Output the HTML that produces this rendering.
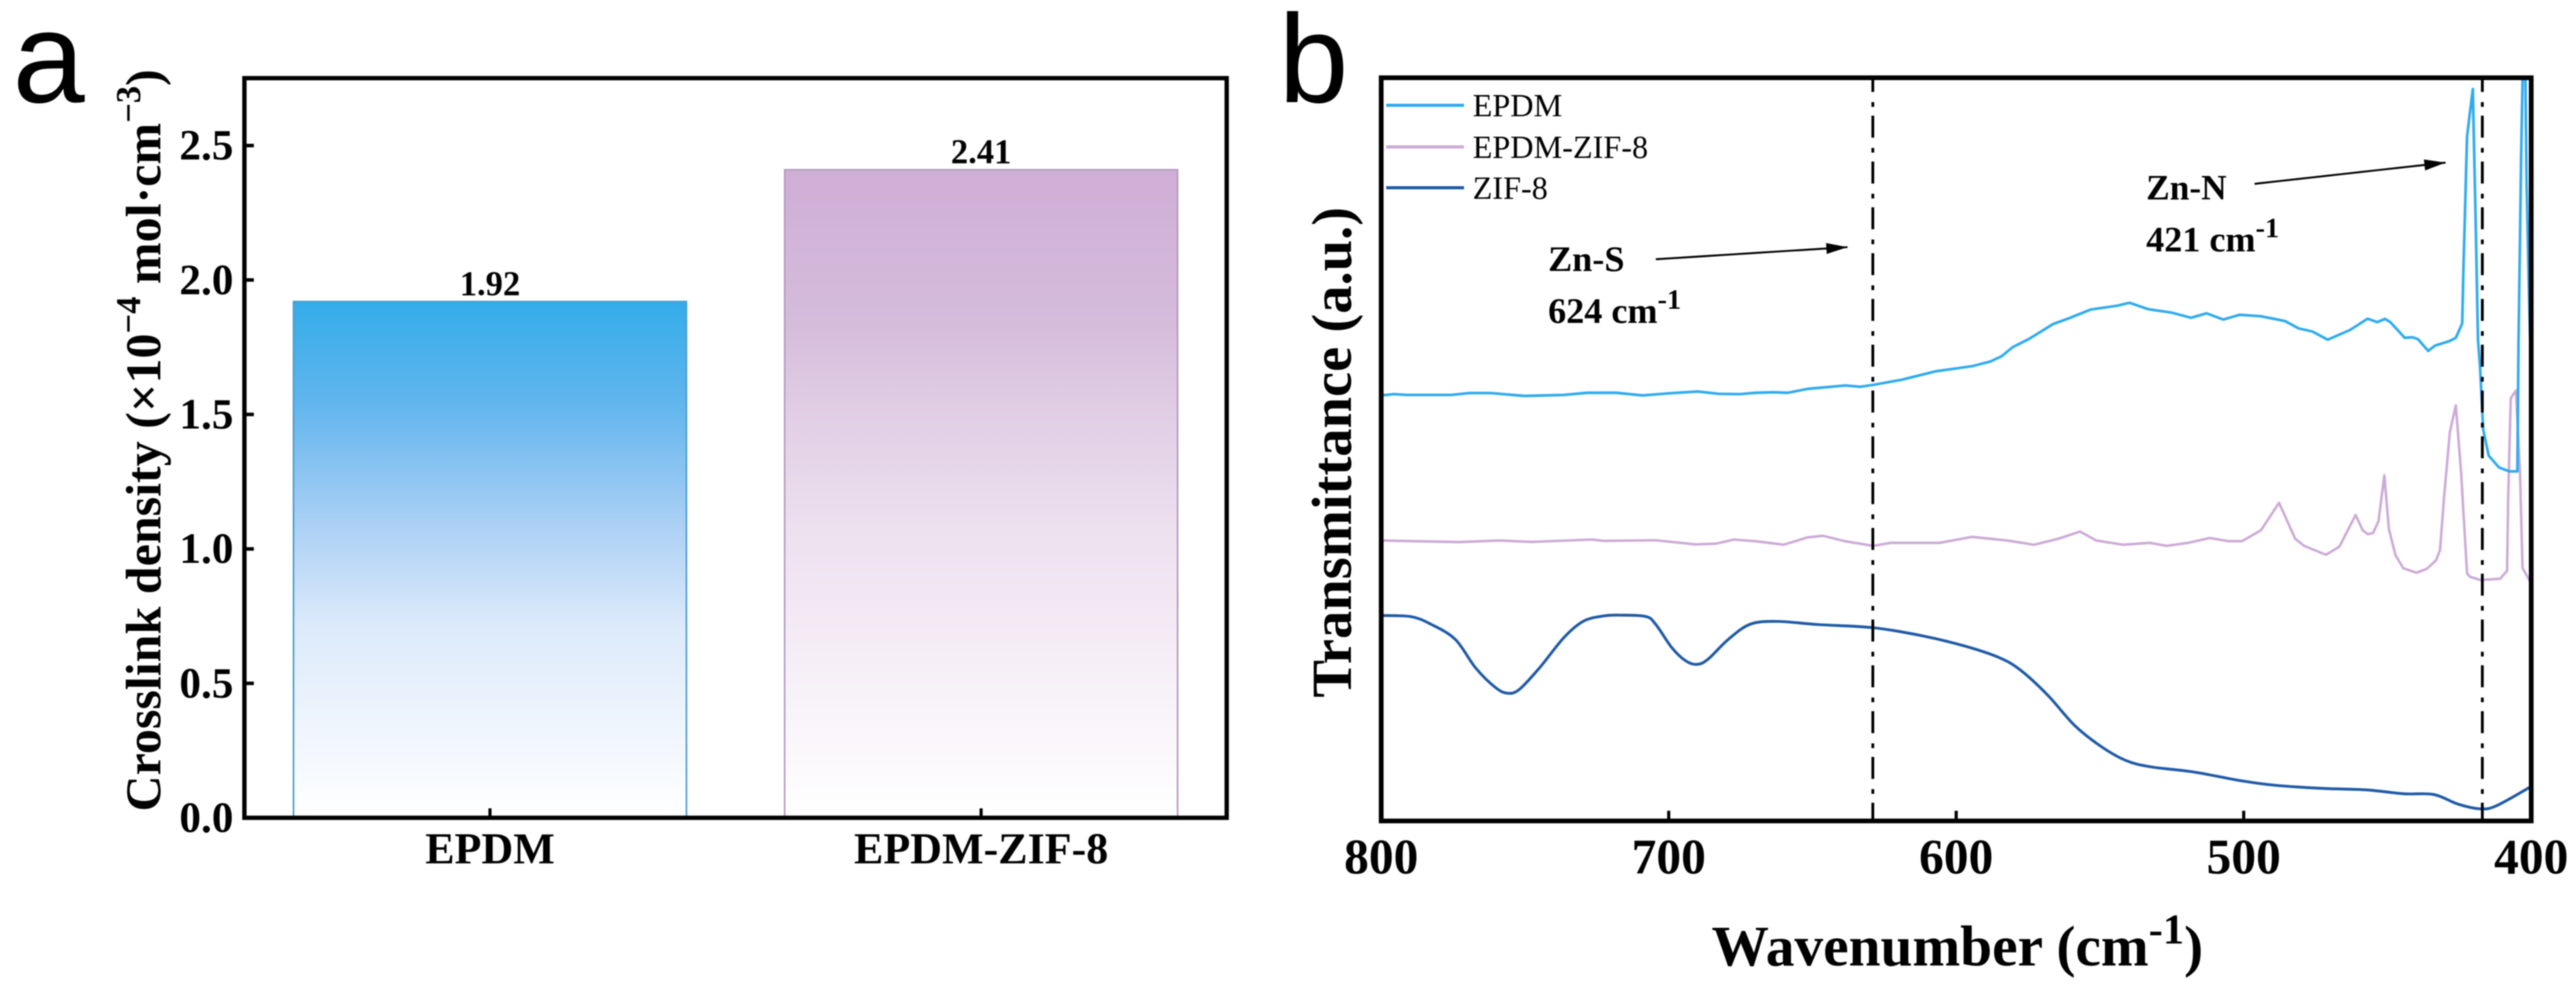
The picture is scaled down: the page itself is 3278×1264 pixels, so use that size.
<!DOCTYPE html>
<html lang="en">
<head>
<meta charset="utf-8">
<title>Crosslink density and FTIR transmittance</title>
<style>
  html, body { margin: 0; padding: 0; background: #fff; }
  svg { display: block; filter: blur(0.7px); }
  text { font-family: "Liberation Serif", serif; fill: #000; }
  .bold { font-weight: bold; }
  .panel { font-family: "Liberation Sans", sans-serif; }
</style>
</head>
<body>
<svg id="figure" width="3278" height="1264" viewBox="0 0 3278 1264" xmlns="http://www.w3.org/2000/svg">
  <defs>
    <linearGradient id="grad-blue" x1="0" y1="0" x2="0" y2="1">
      <stop offset="0" stop-color="#33ace9"/>
      <stop offset="0.2" stop-color="#62b5ed"/>
      <stop offset="0.45" stop-color="#b0d2f5"/>
      <stop offset="0.63" stop-color="#dceafa"/>
      <stop offset="1" stop-color="#ffffff"/>
    </linearGradient>
    <linearGradient id="grad-pink" x1="0" y1="0" x2="0" y2="1">
      <stop offset="0" stop-color="#cfaed5"/>
      <stop offset="0.24" stop-color="#d5bcdb"/>
      <stop offset="0.36" stop-color="#dfcce3"/>
      <stop offset="0.56" stop-color="#ede0ef"/>
      <stop offset="1" stop-color="#ffffff"/>
    </linearGradient>
    <clipPath id="clip-b"><rect x="1757" y="99" width="1464" height="946"/></clipPath>
    <marker id="arrow-head" markerUnits="userSpaceOnUse" markerWidth="28" markerHeight="14" refX="27" refY="7" orient="auto">
      <path d="M0 0 L27 7 L0 14 Z" fill="#000"/>
    </marker>
  </defs>

  <rect x="0" y="0" width="3278" height="1264" fill="#fff"/>

  <text class="panel" x="16" y="130" font-size="165">a</text>
  <text class="panel" x="1627" y="130" font-size="160">b</text>

  <g id="chart-a"></g>
  <g id="chart-b"></g>

  <text class="bold" transform="translate(204,1033) rotate(-90)" font-size="63.7">Crosslink density (×10<tspan dy="-26" font-size="44">−4</tspan><tspan dy="26"> mol·cm</tspan><tspan dy="-26" font-size="44">−3</tspan><tspan dy="26">)</tspan></text>
  <text class="bold" transform="translate(1719,888) rotate(-90)" font-size="72">Transmittance (a.u.)</text>
  <text class="bold" x="2178" y="1229" font-size="73">Wavenumber (cm<tspan dy="-28" font-size="54">-1</tspan><tspan dy="28">)</tspan></text>

  <g>
    <line x1="1764" y1="134" x2="1863" y2="134" stroke="#2fabee" stroke-width="4"/>
    <text x="1874" y="148" font-size="41">EPDM</text>
    <line x1="1764" y1="187" x2="1863" y2="187" stroke="#ccaad6" stroke-width="4"/>
    <text x="1874" y="201" font-size="41">EPDM-ZIF-8</text>
    <line x1="1764" y1="239" x2="1863" y2="239" stroke="#1f5aa6" stroke-width="4"/>
    <text x="1874" y="253" font-size="41">ZIF-8</text>
  </g>

  <g>
    <text class="bold" x="1970" y="345" font-size="46">Zn-S</text>
    <text class="bold" x="1970" y="411" font-size="46">624 cm<tspan dy="-18" font-size="36">-1</tspan></text>
    <line x1="2107" y1="330" x2="2351" y2="314.6" stroke="#000" stroke-width="2.4" marker-end="url(#arrow-head)"/>
  </g>
  <g>
    <text class="bold" x="2731" y="254" font-size="45">Zn-N</text>
    <text class="bold" x="2731" y="320" font-size="46">421 cm<tspan dy="-18" font-size="36">-1</tspan></text>
    <line x1="2869" y1="234" x2="3112" y2="207" stroke="#000" stroke-width="2.4" marker-end="url(#arrow-head)"/>
  </g>

<script>
// ---- Panel a data ----
const barCategories = ['EPDM', 'EPDM-ZIF-8'];
const barValues = [1.92, 2.41];
const barValueLabels = ['1.92', '2.41'];
const barYTicks = [0, 0.5, 1, 1.5, 2, 2.5];
const barYTickLabels = ['0.0', '0.5', '1.0', '1.5', '2.0', '2.5'];

// ---- Panel b data (wavenumber in cm-1, transmittance in arbitrary units) ----
const epdmWave = [800,795.5,791.1,775.6,769.3,761.9,750.1,736.5,728.3,718.2,709.1,699.9,690,682.6,675.2,669.8,663.5,658.6,651.7,638.6,633.4,629,618.9,607.2,594.3,588,584.2,580.4,574.8,566.3,560.7,553.2,543.8,539.7,533.4,525,518.3,512.9,507.1,501.5,494,485.6,480.9,476.1,470.8,463,456.9,453.6,450.8,449,444,441.3,439.4,435.8,433.5,428.5,426.2,424,423.5,422.3,420.3,419.4,418.5,417.8,416.7,414.8,411.2,407.6,404.8,404.4,403.5,403,402.5,402,401.6,400.7,400];
const epdmT = [541.7,543.3,542.3,542.3,544.7,544.7,541,542.3,545,545,541.7,544.3,546.7,543.7,543.3,545,545.7,545,550,554.3,552.7,555,561.7,572.3,579,585,591.5,603,613.3,632.5,640,651,656,659.6,651.6,647,640.5,646.2,638.2,644.3,642.4,636.3,627,623,612.6,625,639.3,635,639,635,615,615.7,613.3,598.3,605,610.7,615,633.3,712,871.7,931.7,778.3,612,578.3,498.3,465,450,445,445,612,845,942,980,942,812,662,560];

const compositeWave = [800,772.8,758.9,747.7,726.8,722.5,704.5,690.6,683.5,677.3,669.6,660,651.7,646.3,638.6,628.9,622.8,605.8,594.6,582.3,572.9,564.4,556.9,551.3,541.9,532.6,526.8,519.3,511.8,505.2,500.6,494,487.7,482.1,479,471.4,466.7,461.1,458.6,456.8,455,453.1,451.1,449.5,447.2,444.5,439.9,436.3,433.1,431.7,430.3,428.3,426.2,424.4,422.3,421.2,417.6,410.8,408.4,408,407.1,405.3,403.9,403,400.7,400];
const compositeT = [357,355,357,355.2,358.2,356.5,357.3,352,353,358.2,356,351.6,361,363,356,350.2,354,354,361.6,357,351.6,359.3,368.4,357,351.6,354,350.2,354,360.2,356.1,356.1,370,405,359.3,350.2,338.8,349.3,389.4,370,365,366.7,381.7,440,371.7,338.3,321.7,316,321,331.7,345,412,495,529,445,315,310.7,306.7,308.3,318.3,412,538,548,445,322,307,300];

const zifWave = [800,789.5,782.6,774.2,767.2,760.3,756,751.9,744.9,736.5,729.6,722.5,717.1,708,704.5,698.9,694,690.1,686.3,679.3,671.6,662.1,648.1,628.9,611.4,596.4,585.1,577.7,568.2,558.8,549.4,541,532.6,517.5,500.6,489.3,472.4,457.4,444.2,433.9,425.4,417.9,412.3,400.9,400];
const zifT = [261.6,260,250.2,231,195,170,162.5,167.6,195,233.2,254.4,261,262,260.3,250.2,220.5,203.6,199.3,206,231,250.5,254,250,246,235.4,222,208,192.2,160.3,121.6,94.3,77,69,62.4,51,45.5,41.4,39.6,34.6,33.7,21.4,15.5,19,42,44];

const waveTicks = [800, 700, 600, 500, 400];
const waveTickLabels = ['800', '700', '600', '500', '400'];
const markerWaves = [629, 417];

// ---- Axis functions ----
const SVG_NS = 'http://www.w3.org/2000/svg';
const A = { left: 311, right: 1561, top: 99.5, bottom: 1041, yMax: 2.7505 };
const B = { left: 1757.6, right: 3221, top: 99, bottom: 1045, waveMax: 800, waveMin: 400, tMax: 946 };

function barY(v) { return A.bottom - (v / A.yMax) * (A.bottom - A.top); }
function barX(i) { return A.left + (i + 0.5) * (A.right - A.left) / barCategories.length; }
function barWidth() { return 0.8 * (A.right - A.left) / barCategories.length; }
function waveX(w) { return B.left + (B.waveMax - w) / (B.waveMax - B.waveMin) * (B.right - B.left); }
function transY(t) { return B.bottom - (t / B.tMax) * (B.bottom - B.top); }

function make(tag, parent, attrs, content) {
  const el = document.createElementNS(SVG_NS, tag);
  Object.keys(attrs).forEach(function (k) { el.setAttribute(k, attrs[k]); });
  if (content !== undefined) el.textContent = content;
  parent.appendChild(el);
  return el;
}

// Straight segments, or a Catmull-Rom spline through the same points.
function pathFor(waves, values, smooth) {
  const p = waves.map(function (w, i) { return [waveX(w), transY(values[i])]; });
  let d = 'M' + p[0][0].toFixed(1) + ' ' + p[0][1].toFixed(1);
  for (let i = 0; i < p.length - 1; i++) {
    if (smooth) {
      const p0 = p[Math.max(i - 1, 0)], p1 = p[i], p2 = p[i + 1], p3 = p[Math.min(i + 2, p.length - 1)];
      const c1x = p1[0] + (p2[0] - p0[0]) / 6, c1y = p1[1] + (p2[1] - p0[1]) / 6;
      const c2x = p2[0] - (p3[0] - p1[0]) / 6, c2y = p2[1] - (p3[1] - p1[1]) / 6;
      d += 'C' + c1x.toFixed(1) + ' ' + c1y.toFixed(1) + ' ' + c2x.toFixed(1) + ' ' + c2y.toFixed(1) + ' ' + p2[0].toFixed(1) + ' ' + p2[1].toFixed(1);
    } else {
      d += 'L' + p[i + 1][0].toFixed(1) + ' ' + p[i + 1][1].toFixed(1);
    }
  }
  return d;
}

// ---- Panel a ----
const chartA = document.getElementById('chart-a');
const barFills = ['url(#grad-blue)', 'url(#grad-pink)'];
const barStrokes = ['#4a9fcd', '#b49ac0'];

barCategories.forEach(function (cat, i) {
  const h = A.bottom - barY(barValues[i]);
  const bar = make('rect', chartA, {
    x: barX(i) - barWidth() / 2, y: barY(barValues[i]), width: barWidth(), height: h,
    fill: barFills[i], stroke: barStrokes[i], 'stroke-width': 2
  });
  
  

  const val = make('text', chartA, {
    x: barX(i), y: barY(barValues[i]) - 8.5, 'text-anchor': 'middle', 'font-size': 44, 'class': 'bold'
  }, barValueLabels[i]);
  
  

  const tick = make('line', chartA, {
    x1: barX(i), x2: barX(i), y1: A.bottom, y2: A.bottom - 12, stroke: '#000', 'stroke-width': 4
  });
  
  

  const lab = make('text', chartA, {
    x: barX(i), y: 1099, 'text-anchor': 'middle', 'font-size': 56, 'class': 'bold'
  }, cat);
  
  
});

barYTicks.forEach(function (v, i) {
  const tick = make('line', chartA, {
    x1: A.left, x2: A.left + 12, y1: barY(v), y2: barY(v), stroke: '#000', 'stroke-width': 4.5
  });
  
  

  const lab = make('text', chartA, {
    x: 297, y: barY(v) + 18, 'text-anchor': 'end', 'font-size': 55, 'class': 'bold'
  }, barYTickLabels[i]);
  
  
});

const frameA = make('rect', chartA, {
  x: A.left, y: A.top, width: A.right - A.left, height: A.bottom - A.top,
  fill: 'none', stroke: '#000', 'stroke-width': 5.5
});



// ---- Panel b ----
const chartB = document.getElementById('chart-b');
const plotB = make('g', chartB, { 'clip-path': 'url(#clip-b)' });



function drawSeries(name, waves, values, color, width, smooth) {
  const line = make('path', plotB, {
    d: pathFor(waves, values, smooth), fill: 'none', stroke: color, 'stroke-width': width,
    'stroke-linejoin': 'round', 'stroke-linecap': 'round'
  });
  
  
}

drawSeries('series-zif-8', zifWave, zifT, '#1f5aa6', 3.6, true);
drawSeries('series-epdm-zif-8', compositeWave, compositeT, '#ccaad6', 3.2, false);
drawSeries('series-epdm', epdmWave, epdmT, '#2fabee', 3.4, false);

markerWaves.forEach(function (w) {
  const m = make('line', chartB, {
    x1: waveX(w), x2: waveX(w), y1: B.top, y2: B.bottom, stroke: '#000', 'stroke-width': 3.6,
    'stroke-dasharray': '28 13 6 11.3', 'stroke-dashoffset': 10
  });
  
  
});

waveTicks.forEach(function (w, i) {
  const tick = make('line', chartB, {
    x1: waveX(w), x2: waveX(w), y1: B.bottom, y2: B.bottom - 13, stroke: '#000', 'stroke-width': 4
  });
  
  

  const lab = make('text', chartB, {
    x: waveX(w), y: 1112, 'text-anchor': 'middle', 'font-size': 63, 'class': 'bold'
  }, waveTickLabels[i]);
  
  
});

const frameB = make('rect', chartB, {
  x: B.left, y: B.top, width: B.right - B.left, height: B.bottom - B.top,
  fill: 'none', stroke: '#000', 'stroke-width': 6
});


</script>
</svg>
</body>
</html>
